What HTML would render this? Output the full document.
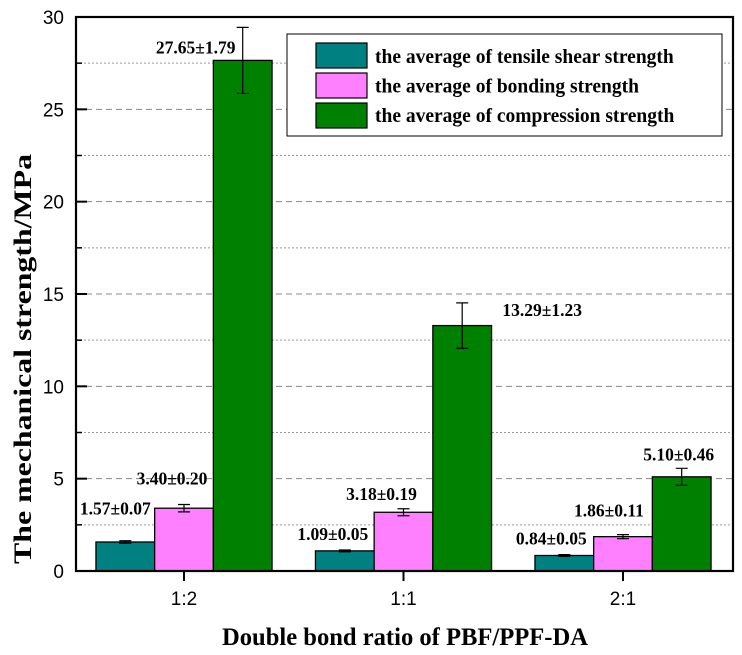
<!DOCTYPE html>
<html><head><meta charset="utf-8"><style>
body{margin:0;background:#fff;}
svg{display:block;}
.lab{font-family:"Liberation Serif",serif;font-weight:bold;font-size:17.5px;}
.tick{font-family:"Liberation Sans",sans-serif;font-size:19px;}
</style></head><body>
<svg id="chart" width="742" height="655" xmlns="http://www.w3.org/2000/svg"></svg>
<script>
const categories = ["1:2", "1:1", "2:1"];
const seriesNames = ["the average of tensile shear strength", "the average of bonding strength", "the average of compression strength"];
const tensile = [1.57, 1.09, 0.84];
const tensileErr = [0.07, 0.05, 0.05];
const bonding = [3.40, 3.18, 1.86];
const bondingErr = [0.20, 0.19, 0.11];
const compression = [27.65, 13.29, 5.10];
const compressionErr = [1.79, 1.23, 0.46];
const yTicks = [0, 5, 10, 15, 20, 25, 30];
const colors = ["#008080", "#ff80ff", "#008000"];
// label placement offsets (styling)
const labDx = [[-10,-12,-47],[-12,-22,80],[-13,-14,-3]];
const labDy = [[-26,-20,26],[-10,-9,13],[-10,-18,-8]];

const NS = "http://www.w3.org/2000/svg";
const svg = document.getElementById("chart");
const X0 = 76, X1 = 733, Y0 = 571, Y1 = 17, YMAX = 30;
const yS = v => Y0 - v / YMAX * (Y0 - Y1);
const groupC = i => 184 + i * 219.5;
const BW = 58.7;
function mk(tag, attrs, parent) {
  const e = document.createElementNS(NS, tag);
  for (const k in attrs) e.setAttribute(k, attrs[k]);
  (parent || svg).appendChild(e);
  return e;
}
for (let v = 2.5; v < YMAX; v += 2.5) {
  const major = Math.abs(v % 5) < 0.01;
  const g = mk("line", {x1: X0, x2: X1, y1: yS(v), y2: yS(v), stroke: major ? "#888" : "#999", "stroke-width": 1, "stroke-dasharray": major ? "6,4" : "2,2"});
  
  
}
const vals = [tensile, bonding, compression];
const errs = [tensileErr, bondingErr, compressionErr];
categories.forEach((c, gi) => {
  for (let s = 0; s < 3; s++) {
    const cx = groupC(gi) + (s - 1) * BW;
    const v = vals[s][gi], e = errs[s][gi];
    const r = mk("rect", {x: cx - BW / 2, y: yS(v), width: BW, height: Y0 - yS(v), fill: colors[s], stroke: "#000", "stroke-width": 1.3});
    
    
    const eb = mk("path", {d: `M${cx} ${yS(v + e)}V${yS(v - e)}M${cx - 6} ${yS(v + e)}H${cx + 6}M${cx - 6} ${yS(v - e)}H${cx + 6}`, stroke: "#000", "stroke-width": 1.2, fill: "none"});
    
    
    const t = mk("text", {x: cx + labDx[gi][s], y: yS(v + e) + labDy[gi][s], "text-anchor": "middle", class: "lab"});
    t.textContent = v.toFixed(2) + "±" + e.toFixed(2);
    
    
  }
  const tk = mk("line", {x1: groupC(gi), x2: groupC(gi), y1: Y0, y2: Y0 + 10, stroke: "#000", "stroke-width": 2});
  
  
  const tl = mk("text", {x: groupC(gi), y: 605, "text-anchor": "middle", class: "tick"});
  tl.textContent = c;
  
  
});
yTicks.forEach(v => {
  const tk = mk("line", {x1: X0, x2: X0 + 11, y1: yS(v), y2: yS(v), stroke: "#000", "stroke-width": 2});
  
  
  const tl = mk("text", {x: 64, y: yS(v) + 7, "text-anchor": "end", class: "tick"});
  tl.textContent = v;
  
  
});
for (let v = 2.5; v < YMAX; v += 5) {
  const tk = mk("line", {x1: X0, x2: X0 + 6, y1: yS(v), y2: yS(v), stroke: "#000", "stroke-width": 1.5});
  
  
}
const fr = mk("rect", {x: X0, y: Y1, width: X1 - X0, height: Y0 - Y1, fill: "none", stroke: "#000", "stroke-width": 2.2});


const lg = mk("g", {});


mk("rect", {x: 287, y: 34, width: 435, height: 102, fill: "#fff", stroke: "#000", "stroke-width": 1}, lg);
seriesNames.forEach((n, i) => {
  const sw = mk("rect", {x: 316, y: 43 + i * 30, width: 51, height: 25, fill: colors[i], stroke: "#000", "stroke-width": 1.2}, lg);
  
  
  const t = mk("text", {x: 375, y: 63 + i * 29.5, class: "lab"}, lg);
  t.style.fontSize = "19.5px";
  t.textContent = n;
  
  
});
const xt = mk("text", {x: 405, y: 645, "text-anchor": "middle", class: "lab", textLength: 366, lengthAdjust: "spacingAndGlyphs"});
xt.style.fontSize = "25px";
xt.textContent = "Double bond ratio of PBF/PPF-DA";


const yt = mk("text", {x: 0, y: 0, "text-anchor": "middle", class: "lab", transform: "translate(31,359) rotate(-90)", textLength: 410, lengthAdjust: "spacingAndGlyphs"});
yt.style.fontSize = "25px";
yt.textContent = "The mechanical strength/MPa";


</script>
</body></html>
